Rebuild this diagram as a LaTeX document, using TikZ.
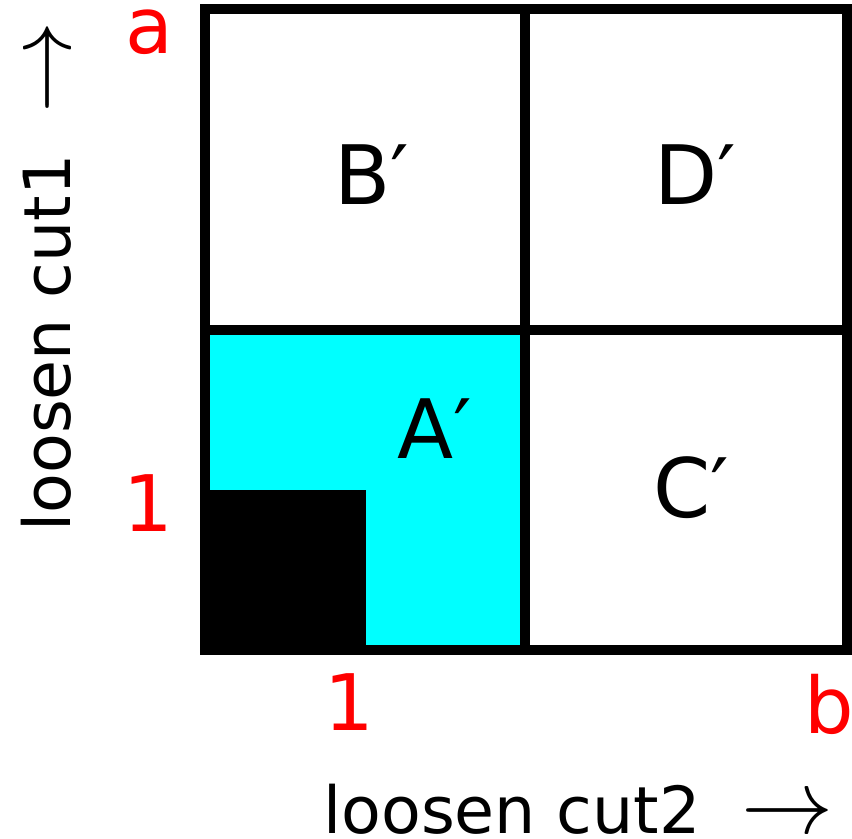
\documentclass[tikz,border=0pt]{standalone}
\usepackage{fontspec}
\setmainfont{DejaVu Sans}
\usetikzlibrary{positioning}
\definecolor{regioncyan}{RGB}{0,255,255}
\newcommand{\axisarrow}{\scalebox{4.6}{\fontsize{10}{12}\selectfont$\rightarrow$}}

\begin{document}
\begin{tikzpicture}[
    x=0.5pt, y=-0.5pt,
    frame/.style={line width=5pt},
    cellname/.style={inner sep=0pt, anchor=base west, font=\fontsize{41}{44}\selectfont},
    bound/.style={inner sep=0pt, text=red, font=\fontsize{39}{42}\selectfont},
    axis/.style={inner sep=0pt, anchor=base west, font=\fontsize{32.5}{36}\selectfont}
]
    \useasboundingbox (0,0) rectangle (852,839);

    % Regions
    \fill[regioncyan] (205,330) rectangle (525,650);
    \fill[black] (205,490) rectangle (366,650);

    % Grid
    \draw[frame] (205,9) rectangle (847,650);
    \draw[frame] (525,9) -- (525,650);
    \draw[frame] (205,330) -- (847,330);

    % Cell names
    \node[cellname] (bp) at (334,205) {B′};
    \node[cellname] (dp) at (654,205) {D′};
    \node[cellname] (ap) at (397,459) {A′};
    \node[cellname] (cp) at (653,518) {C′};

    % Bounds
    \node[bound] (amax) at (149,32) {a};
    \node[bound] (aone) at (148,503) {1};
    \node[bound] (bone) at (349,702) {1};
    \node[bound] (bmax) at (829,704) {b};

    % Axes
    \node[axis] (cuttwo) at (323,833) {loosen cut2~\hspace{10pt}\axisarrow};
    \node[axis, rotate=90] (cutone) at (70,532) {loosen cut1~\hspace{10pt}\axisarrow};
\end{tikzpicture}
\end{document}
